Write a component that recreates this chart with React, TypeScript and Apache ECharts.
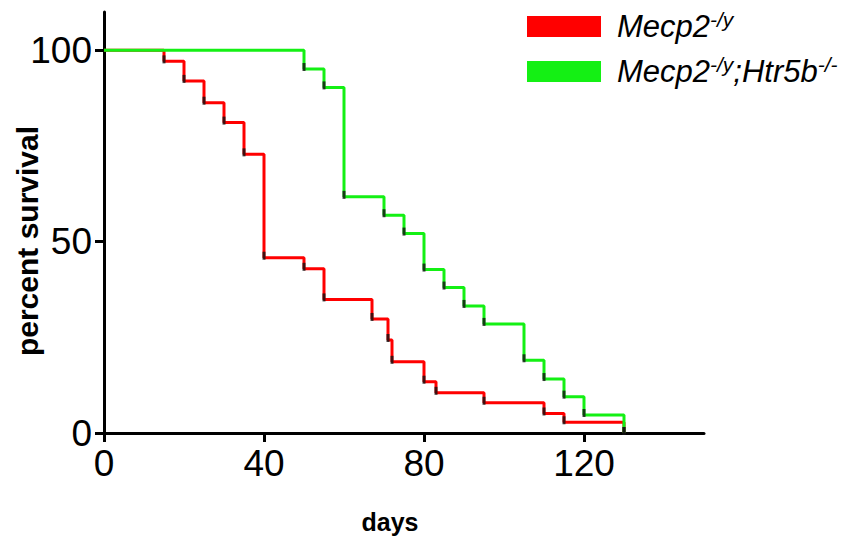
import React, { useEffect, useRef } from "react";
import * as echarts from "echarts";

// Kaplan–Meier steps
const redDays = [0, 15, 20, 25, 30, 35, 40, 50, 55, 67, 71, 72, 80, 83, 95, 110, 115, 130];
const redSurvival = [100, 97.1, 92.0, 86.3, 81.1, 72.8, 45.8, 42.9, 34.9, 29.8, 24.3, 18.6, 13.4, 10.5, 7.9, 5.1, 2.8, 0];

const greenDays = [0, 50, 55, 60, 70, 75, 80, 85, 90, 95, 105, 110, 115, 120, 130];
const greenSurvival = [100, 95.1, 90.3, 61.7, 56.9, 52.1, 42.7, 38.0, 33.2, 28.5, 19.0, 14.1, 9.5, 4.7, 0];

const xTicks = [0, 40, 80, 120];
const yTicks = [0, 50, 100];

const seriesNames = ["Mecp2-/y", "Mecp2-/y;Htr5b-/-"];
const xTitle = "days";
const yTitle = "percent survival";

const RED = "#ff0000";
const GREEN = "#14f014";
const FONT = "'Liberation Sans', Arial, sans-serif";

function pairs(xs: number[], ys: number[]) {
  return xs.map((x, i) => [x, ys[i]]);
}

export default function App() {
  const ref = useRef<HTMLDivElement>(null);
  useEffect(() => {
    if (!ref.current) return;
    const chart = echarts.init(ref.current, null, { renderer: "svg" });
    const redPts = pairs(redDays, redSurvival);
    const greenPts = pairs(greenDays, greenSurvival);
    const tickStyle = {
      type: "scatter" as const,
      symbol: "rect",
      symbolSize: [3, 8],
      symbolOffset: [0, -2],
      itemStyle: { color: "#111" },
      z: 5,
      silent: true,
    };
    const rich = {
      m: { fontSize: 31, fontStyle: "italic", fontFamily: FONT, fill: "#000", lineHeight: 35 },
      s: { fontSize: 21, fontStyle: "italic", fontFamily: FONT, fill: "#000", verticalAlign: "top", lineHeight: 35 },
    };
    chart.setOption({
      animation: false,
      backgroundColor: "#fff",
      grid: { left: 104, right: 146, top: 12, bottom: 113, outerBoundsMode: "none" },
      xAxis: {
        type: "value",
        min: 0,
        max: 150,
        interval: 40,
        axisLine: { show: true, lineStyle: { color: "#000", width: 3 } },
        axisTick: { show: true, length: 9, lineStyle: { color: "#000", width: 3 }, customValues: xTicks },
        axisLabel: { customValues: xTicks, fontSize: 37, fontFamily: FONT, color: "#000", margin: 12 },
        splitLine: { show: false },
      },
      yAxis: {
        type: "value",
        min: 0,
        max: 110,
        interval: 50,
        axisLine: { show: true, lineStyle: { color: "#000", width: 3 } },
        axisTick: { show: true, length: 9, lineStyle: { color: "#000", width: 3 }, customValues: yTicks },
        axisLabel: { customValues: yTicks, fontSize: 37, fontFamily: FONT, color: "#000", margin: 12 },
        splitLine: { show: false },
      },
      series: [
        {
          name: seriesNames[0],
          type: "line",
          step: "end",
          data: redPts,
          symbol: "none",
          lineStyle: { color: RED, width: 3 },
          z: 2,
        },
        {
          name: seriesNames[1],
          type: "line",
          step: "end",
          data: greenPts,
          symbol: "none",
          lineStyle: { color: GREEN, width: 3 },
          z: 3,
        },
        { ...tickStyle, data: redPts.slice(1) },
        { ...tickStyle, data: greenPts.slice(1) },
      ],
      graphic: [
        { type: "rect", shape: { x: 527, y: 16, width: 74, height: 21 }, style: { fill: RED } },
        { type: "rect", shape: { x: 527, y: 61, width: 74, height: 21 }, style: { fill: GREEN } },
        {
          type: "text",
          x: 617,
          y: 26,
          style: { text: "{m|Mecp2}{s|-/y}", rich, verticalAlign: "middle", align: "left" },
        },
        {
          type: "text",
          x: 617,
          y: 71,
          style: { text: "{m|Mecp2}{s|-/y}{m|;Htr5b}{s|-/-}", rich, verticalAlign: "middle", align: "left" },
        },
        {
          type: "text",
          x: 390,
          y: 522,
          style: {
            text: xTitle,
            fontSize: 25,
            fontWeight: "bold",
            fontFamily: FONT,
            fill: "#000",
            align: "center",
            verticalAlign: "middle",
          },
        },
        {
          type: "text",
          x: 27,
          y: 241,
          rotation: Math.PI / 2,
          style: {
            text: yTitle,
            fontSize: 30,
            fontWeight: "bold",
            fontFamily: FONT,
            fill: "#000",
            align: "center",
            verticalAlign: "middle",
          },
        },
      ],
    });
    return () => chart.dispose();
  }, []);
  return (
    <div
      ref={ref}
      style={{ position: "fixed", left: 0, top: 0, width: 850, height: 546, background: "#fff" }}
    />
  );
}
